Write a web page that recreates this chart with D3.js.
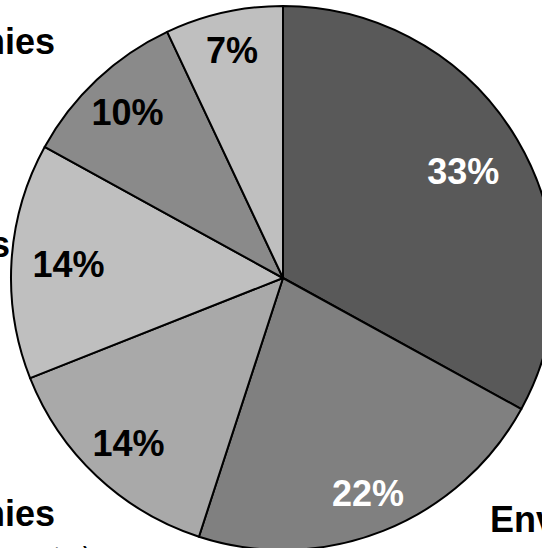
<!DOCTYPE html>
<html>
<head>
<meta charset="utf-8">
<script src="https://cdn.jsdelivr.net/npm/d3@7"></script>
<style>
  body { margin: 0; background: #fff; }
  svg { display: block; font-family: "Liberation Sans", Arial, sans-serif; }
</style>
</head>
<body>
<svg></svg>
<script>
// data, clockwise from 12 o'clock
const categories = ["Financial Institutions", "Environmental Organizations", "Energy Companies", "Government Agencies", "Technology Companies", "Others"];
const subtitles = ["", "", "(oil, gas, etc.)", "", "", ""];
const shares = [33, 22, 14, 14, 10, 7];
const fills = ["#595959", "#808080", "#a9a9a9", "#bfbfbf", "#8a8a8a", "#bfbfbf"];
const pctColors = ["#fff", "#fff", "#000", "#000", "#000", "#000"];

// how far out each percentage sits (fraction of the radius)
const pctRadius = [0.77, 0.85, 0.83, 0.79, 0.835, 0.86];
// where the category captions sit (most are cut off by the frame)
const captionPos = [[560, 200, "start"], [490, 532, "start"], [55, 526, "end"], [10, 257, "end"], [55, 54, "end"], [300, -20, "middle"]];

let width = 542, height = 548;
let cx = 283, cy = 278, radius = 272;

let svg = d3.select("svg")
  .attr("width", width)
  .attr("height", height);

let rows = categories.map((c, i) => ({name: c, sub: subtitles[i], value: shares[i], i: i}));

let pie = d3.pie().sort(null).value(d => d.value);
let arc = d3.arc().innerRadius(0).outerRadius(radius);

let g = svg.append("g").attr("transform", `translate(${cx},${cy})`);

let slices = pie(rows);

g.selectAll("path")
  .data(slices)
  .enter().append("path")
  .attr("d", arc)
  .attr("fill", d => fills[d.data.i])
  .attr("stroke", "#000")
  .attr("stroke-width", 2)
  .attr("stroke-linejoin", "round");

g.selectAll("text.pct")
  .data(slices)
  .enter().append("text")
  .attr("class", "pct")
  .attr("transform", d => {
    let r = radius * pctRadius[d.data.i];
    let la = d3.arc().innerRadius(r).outerRadius(r);
    return `translate(${la.centroid(d)})`;
  })
  .attr("text-anchor", "middle")
  .attr("dy", "0.36em")
  .attr("font-size", 36)
  .attr("font-weight", "bold")
  .attr("fill", d => pctColors[d.data.i])
  .text(d => d.data.value + "%");

// category captions
let cap = svg.selectAll("text.cap")
  .data(rows)
  .enter().append("text")
  .attr("class", "cap")
  .attr("x", d => captionPos[d.i][0])
  .attr("y", d => captionPos[d.i][1])
  .attr("text-anchor", d => captionPos[d.i][2])
  .attr("font-size", 36)
  .attr("font-weight", "bold")
  .attr("fill", "#000");

cap.append("tspan").text(d => d.name);
cap.filter(d => d.sub)
  .append("tspan")
  .attr("x", d => captionPos[d.i][0] + 35)
  .attr("dy", 40)
  .attr("font-size", 28)
  .attr("font-weight", "normal")
  .attr("font-style", "italic")
  .text(d => d.sub);
</script>
</body>
</html>
